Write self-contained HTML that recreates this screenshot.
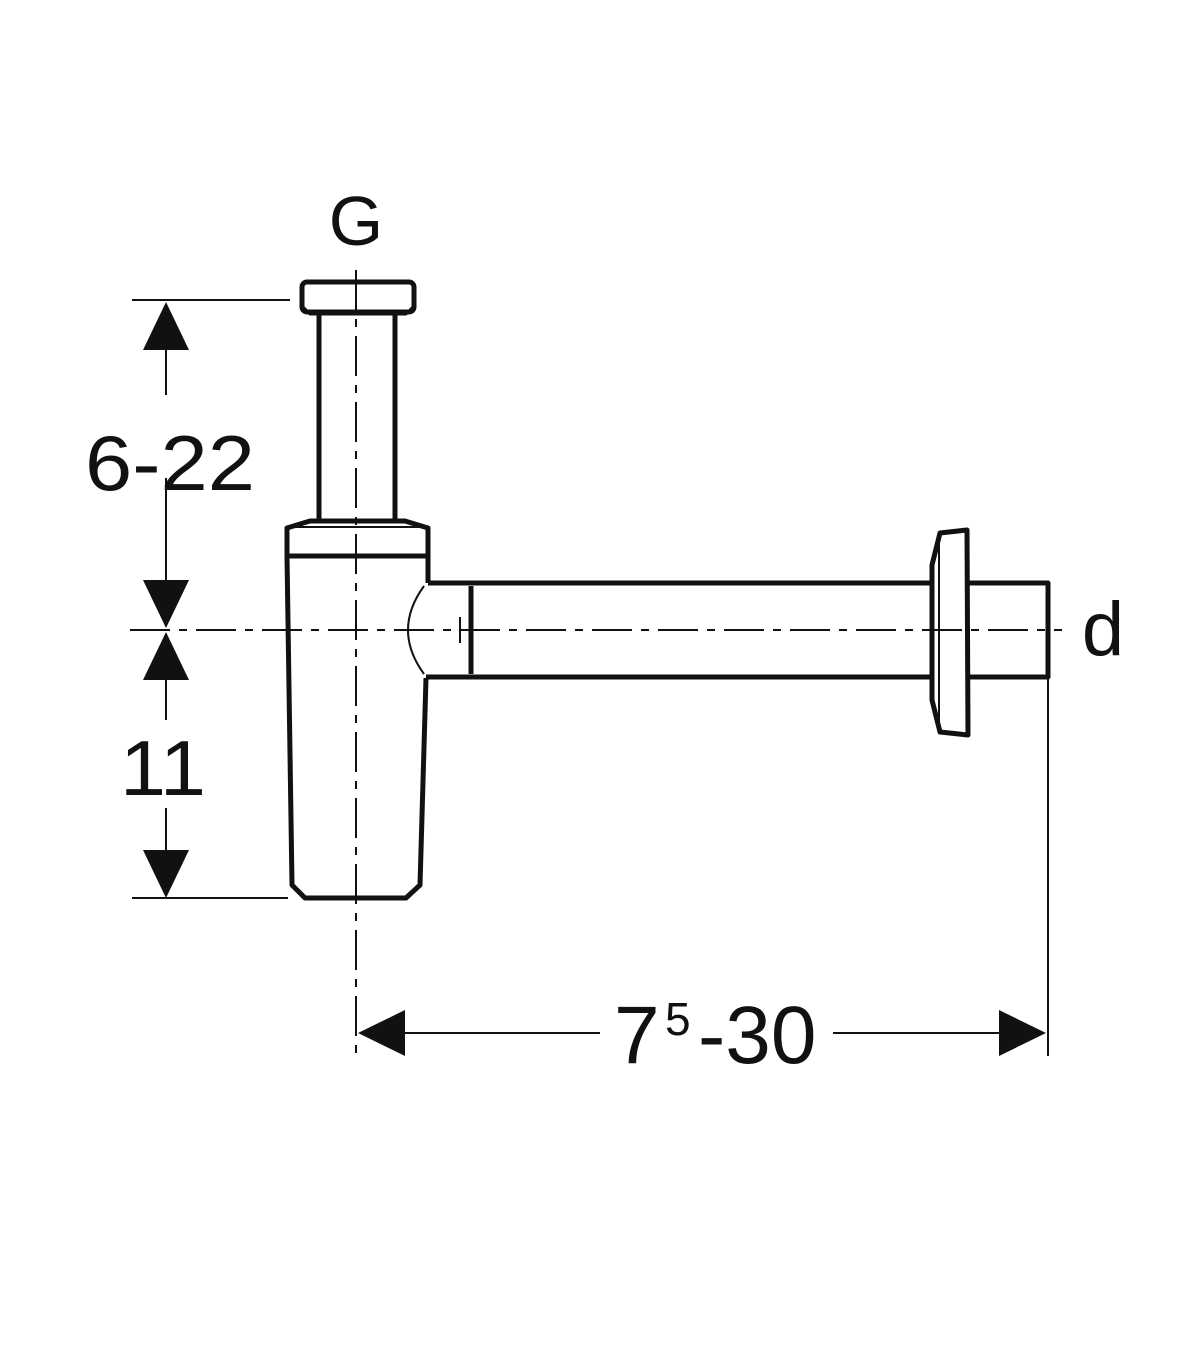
<!DOCTYPE html>
<html><head><meta charset="utf-8"><style>html,body{margin:0;padding:0;background:#fff}svg{display:block}</style></head>
<body>
<svg width="1200" height="1372" viewBox="0 0 1200 1372" xmlns="http://www.w3.org/2000/svg">
<g fill="none" stroke="#111" stroke-linejoin="round">
  <line x1="130" y1="630" x2="1062" y2="630" stroke-width="2" stroke-dasharray="40,9,8,9"/>
  <line x1="356" y1="270" x2="356" y2="1055" stroke-width="2" stroke-dasharray="40,9,8,9"/>
  <rect x="302" y="282" width="112" height="30" rx="5" stroke-width="5"/>
  <polyline points="302,306 310,314 406,314 414,306" stroke-width="3"/>
  <line x1="319" y1="314" x2="319" y2="521" stroke-width="5"/>
  <line x1="395" y1="314" x2="395" y2="521" stroke-width="5"/>
  <polyline points="287,558 287,528 310,521 405,521 428,528 428,558" stroke-width="5"/>
  <line x1="287" y1="527" x2="428" y2="527" stroke-width="2"/>
  <line x1="287" y1="556" x2="428" y2="556" stroke-width="5"/>
  <polyline points="287,556 292,885 305,898 406,898 420,885 426,678" stroke-width="5"/>
  <line x1="428" y1="556" x2="428" y2="583" stroke-width="5"/>
  <polyline points="428,583 932,583" stroke-width="5"/>
  <polyline points="426,677 932,677" stroke-width="5"/>
  <path d="M424,586 Q392,630 424,674" stroke-width="2"/>
  <line x1="471" y1="586" x2="471" y2="674" stroke-width="5"/>
  <line x1="460" y1="617" x2="460" y2="643" stroke-width="2"/>
  <polygon points="940,533 967,530 968,735 940,732 932,700 932,565" stroke-width="5"/>
  <line x1="939" y1="540" x2="939" y2="725" stroke-width="2"/>
  <polyline points="968,583 1048,583 1048,677 968,677" stroke-width="5"/>
  <line x1="1048" y1="677" x2="1048" y2="1056" stroke-width="2"/>
  <line x1="132" y1="300" x2="290" y2="300" stroke-width="2"/>
  <line x1="132" y1="898" x2="288" y2="898" stroke-width="2"/>
  <line x1="166" y1="340" x2="166" y2="395" stroke-width="2"/>
  <line x1="166" y1="478" x2="166" y2="590" stroke-width="2"/>
  <line x1="166" y1="670" x2="166" y2="720" stroke-width="2"/>
  <line x1="166" y1="808" x2="166" y2="860" stroke-width="2"/>
  <line x1="400" y1="1033" x2="600" y2="1033" stroke-width="2"/>
  <line x1="833" y1="1033" x2="1005" y2="1033" stroke-width="2"/>
</g>
<g fill="#111">
  <polygon points="166,302 143,350 189,350"/>
  <polygon points="166,628 143,580 189,580"/>
  <polygon points="166,632 143,680 189,680"/>
  <polygon points="166,898 143,850 189,850"/>
  <polygon points="358,1033 405,1010 405,1056"/>
  <polygon points="1046,1033 999,1010 999,1056"/>
</g>
<g font-family="Liberation Sans, sans-serif" fill="#111">
  <text x="356" y="245" font-size="70" text-anchor="middle">G</text>
  <text x="1103" y="655" font-size="76" text-anchor="middle">d</text>
  <text x="85" y="490" font-size="78" textLength="170" lengthAdjust="spacingAndGlyphs">6-22</text>
  <text x="120" y="795" font-size="78" textLength="86" lengthAdjust="spacingAndGlyphs">11</text>
  <text x="614" y="1063" font-size="82">7</text>
  <text x="665" y="1035" font-size="46">5</text>
  <text x="698" y="1063" font-size="82">-30</text>
</g>
</svg>
</body></html>
